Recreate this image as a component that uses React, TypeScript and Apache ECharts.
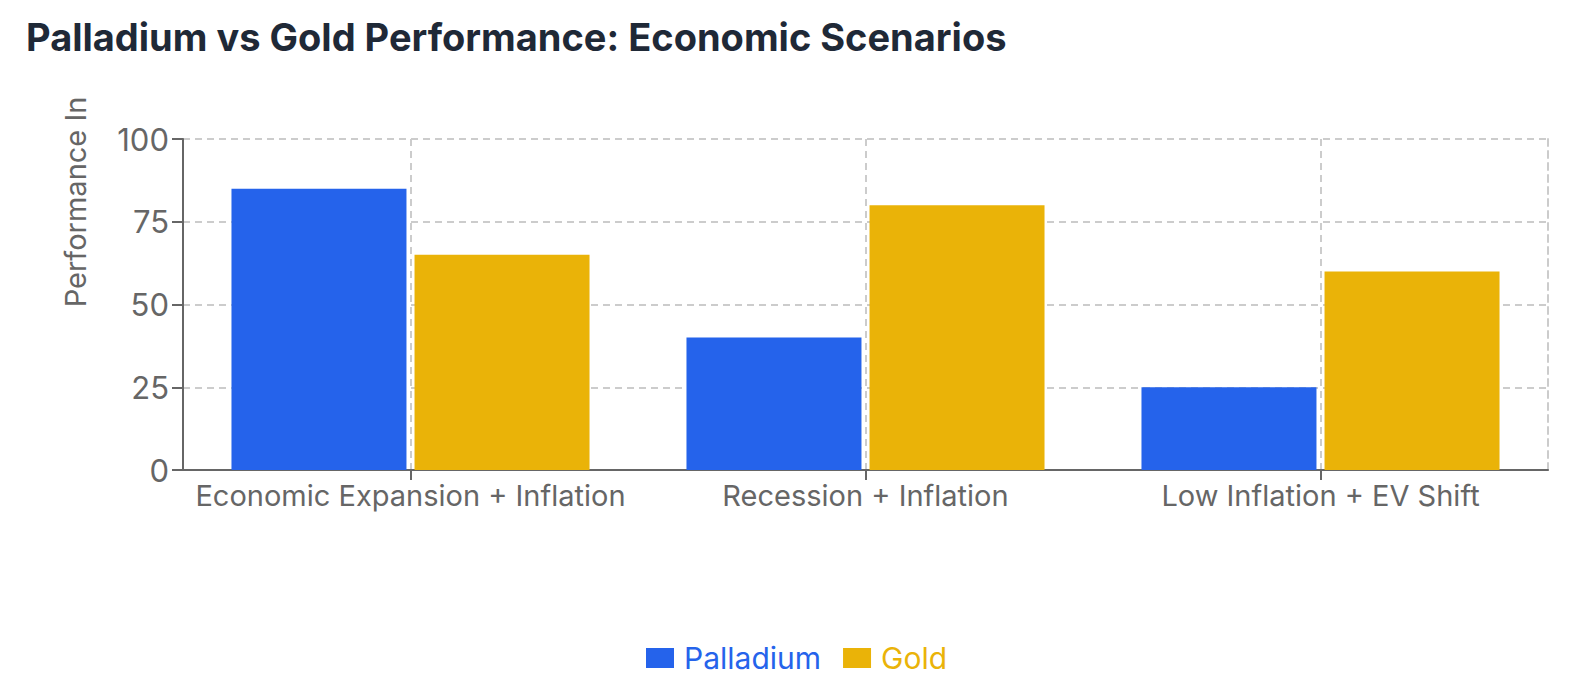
import React, { useEffect, useRef } from "react";
import * as echarts from "echarts";

const categories = ["Economic Expansion + Inflation", "Recession + Inflation", "Low Inflation + EV Shift"];
const palladium = [85, 40, 25];
const gold = [65, 80, 60];
const yTicks = { min: 0, max: 100, interval: 25 };

const FONT = "Inter, 'Noto Sans', sans-serif";
const BLUE = "#2563eb";
const GOLD = "#eab308";
const AXIS = "#666666";
const GRIDC = "#cccccc";

export default function App() {
  const ref = useRef<HTMLDivElement>(null);
  useEffect(() => {
    if (!ref.current) return;
    const chart = echarts.init(ref.current, undefined, { renderer: "svg" });
    chart.setOption({
      animation: false,
      textStyle: { fontFamily: FONT },
      title: {
        text: "Palladium vs Gold Performance: Economic Scenarios",
        left: 13,
        top: 5,
        textStyle: { fontFamily: FONT, fontSize: 38, fontWeight: "bold", color: "#1f2937" },
      },
      grid: { left: 175, right: 14, top: 131, bottom: 221, containLabel: false },
      legend: {
        bottom: 13,
        left: 633,
        icon: "rect",
        itemWidth: 28,
        itemHeight: 20,
        itemGap: 22,
        textStyle: { fontFamily: FONT, fontSize: 30, padding: [0, 0, 0, 5] },
        data: [
          { name: "Palladium", textStyle: { color: BLUE } },
          { name: "Gold", textStyle: { color: GOLD } },
        ],
      },
      graphic: [
        {
          type: "text",
          x: 67,
          y: 194,
          rotation: Math.PI / 2,
          style: {
            text: "Performance In",
            fontFamily: FONT,
            fontSize: 29,
            fill: AXIS,
            align: "center",
            verticalAlign: "middle",
          },
        },
      ],
      xAxis: {
        type: "category",
        data: categories,
        axisLine: { lineStyle: { color: AXIS, width: 2 } },
        axisTick: { show: true, alignWithLabel: true, length: 10, lineStyle: { color: AXIS, width: 2 } },
        axisLabel: { color: AXIS, fontSize: 29, margin: 11, interval: 0, fontFamily: FONT },
        splitLine: { show: true, alignWithLabel: true, lineStyle: { color: GRIDC, type: [7, 5], width: 2 } },
      },
      yAxis: [
        {
          type: "value",
          min: yTicks.min,
          max: yTicks.max,
          interval: yTicks.interval,
          axisLine: { show: true, lineStyle: { color: AXIS, width: 2 } },
          axisTick: { show: true, length: 11, lineStyle: { color: AXIS, width: 2 } },
          axisLabel: { color: AXIS, fontSize: 31, margin: 14, fontFamily: FONT },
          splitLine: { show: true, lineStyle: { color: GRIDC, type: [7, 5], width: 2 } },
        },
        {
          type: "value",
          position: "right",
          min: yTicks.min,
          max: yTicks.max,
          interval: yTicks.interval,
          axisLine: { show: true, lineStyle: { color: GRIDC, type: [7, 5], width: 2 } },
          axisTick: { show: false },
          axisLabel: { show: false },
          splitLine: { show: false },
        },
      ],
      series: [
        {
          name: "Palladium",
          type: "bar",
          data: palladium,
          barWidth: 175,
          barGap: "4.6%",
          itemStyle: { color: BLUE },
        },
        {
          name: "Gold",
          type: "bar",
          data: gold,
          barWidth: 175,
          itemStyle: { color: GOLD },
        },
      ],
    });
    return () => chart.dispose();
  }, []);
  return <div ref={ref} style={{ width: 1554, height: 683 }} />;
}
